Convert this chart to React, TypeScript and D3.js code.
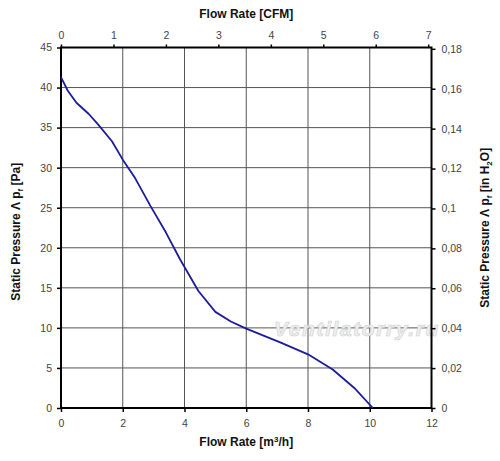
import React, { useEffect, useRef } from 'react';
import * as d3 from 'd3';

// Fan curve: flow in m³/h, static pressure in Pa
const flowM3h = [0, 0.22, 0.5, 0.9, 1.2, 1.65, 2.0, 2.4, 2.9, 3.4, 3.85, 4.45, 5.0, 5.5, 6.0, 7.1, 8.0, 8.8, 9.5, 10.1];
const pressurePa = [41.3, 39.6, 38.1, 36.7, 35.4, 33.3, 31.0, 28.7, 25.2, 21.9, 18.6, 14.6, 12.0, 10.8, 9.9, 8.2, 6.7, 4.8, 2.5, 0];

const bottomTicks = [0, 2, 4, 6, 8, 10, 12];
const leftTicks = [0, 5, 10, 15, 20, 25, 30, 35, 40, 45];
const topTicks = [0, 1, 2, 3, 4, 5, 6, 7];
const rightTicks = [0, 0.02, 0.04, 0.06, 0.08, 0.1, 0.12, 0.14, 0.16, 0.18];

const M3H_PER_CFM = 1.699;
const PA_PER_INH2O = 249.09;

const W = 500;
const H = 461;
const margin = { top: 47.5, right: 68.5, bottom: 53, left: 61 };

const font = "'Liberation Sans', Arial, sans-serif";

const App: React.FC = () => {
  const svgRef = useRef<SVGSVGElement>(null);

  useEffect(() => {
    if (!svgRef.current) return;
    const svg = d3.select(svgRef.current);
    svg.selectAll('*').remove();

    const x0 = margin.left;
    const x1 = W - margin.right;
    const y0 = H - margin.bottom;
    const y1 = margin.top;

    const x = d3.scaleLinear().domain([0, 12]).range([x0, x1]);
    const y = d3.scaleLinear().domain([0, 45]).range([y0, y1]);
    const xTop = d3.scaleLinear().domain([0, 12 / M3H_PER_CFM]).range([x0, x1]);
    const yRight = d3.scaleLinear().domain([0, 45 / PA_PER_INH2O]).range([y0, y1]);

    const comma = (v: number) => String(+v.toFixed(2)).replace('.', ',');

    // grid
    const grid = svg.append('g').attr('stroke', '#555').attr('stroke-width', 1);
    grid.selectAll('line.v')
      .data(bottomTicks.slice(1, -1))
      .join('line')
      .attr('x1', d => x(d)).attr('x2', d => x(d))
      .attr('y1', y1).attr('y2', y0);
    grid.selectAll('line.h')
      .data(leftTicks.slice(1, -1))
      .join('line')
      .attr('x1', x0).attr('x2', x1)
      .attr('y1', d => y(d)).attr('y2', d => y(d));

    // watermark
    svg.append('text')
      .attr('x', 357).attr('y', 336)
      .attr('text-anchor', 'middle')
      .attr('font-family', font)
      .attr('font-style', 'italic')
      .attr('font-weight', 'bold')
      .attr('font-size', 21)
      .attr('letter-spacing', 1.6)
      .attr('fill', '#f0f0f0')
      .attr('stroke', '#d2d2d2')
      .attr('stroke-width', 0.7)
      .text('Ventilatorry.ru');

    // axes
    const tickStyle = (g: d3.Selection<SVGGElement, unknown, null, undefined>) => {
      g.select('.domain').remove();
      g.selectAll('.tick line').attr('stroke', '#000').attr('stroke-width', 1.5);
      g.selectAll('.tick text')
        .attr('fill', '#444')
        .attr('font-family', font)
        .attr('font-size', 10.5);
    };

    svg.append('g')
      .attr('transform', `translate(0,${y0})`)
      .call(d3.axisBottom(x).tickValues(bottomTicks).tickSize(4).tickPadding(8).tickFormat(d => String(d)))
      .call(tickStyle);
    svg.append('g')
      .attr('transform', `translate(${x0},0)`)
      .call(d3.axisLeft(y).tickValues(leftTicks).tickSize(4).tickPadding(5).tickFormat(d => String(d)))
      .call(tickStyle);
    svg.append('g')
      .attr('transform', `translate(0,${y1})`)
      .call(d3.axisTop(xTop).tickValues(topTicks).tickSize(3).tickPadding(6).tickFormat(d => String(d)))
      .call(tickStyle);
    svg.append('g')
      .attr('transform', `translate(${x1},0)`)
      .call(d3.axisRight(yRight).tickValues(rightTicks).tickSize(4).tickPadding(6).tickFormat(d => comma(+d)))
      .call(tickStyle);

    // frame
    svg.append('rect')
      .attr('x', x0).attr('y', y1)
      .attr('width', x1 - x0).attr('height', y0 - y1)
      .attr('fill', 'none')
      .attr('stroke', '#000')
      .attr('stroke-width', 2);

    // curve
    const pts = flowM3h.map((f, i) => [f, pressurePa[i]] as [number, number]);
    const line = d3.line<[number, number]>()
      .x(d => x(d[0]))
      .y(d => y(d[1]));
    svg.append('path')
      .datum(pts)
      .attr('d', line)
      .attr('fill', 'none')
      .attr('stroke', '#1c1c9c')
      .attr('stroke-width', 1.8)
      .attr('stroke-linejoin', 'round');

    // titles
    const title = (t: d3.Selection<SVGTextElement, unknown, null, undefined>) =>
      t.attr('font-family', font).attr('font-weight', 'bold').attr('font-size', 12).attr('fill', '#111');

    svg.append('text')
      .attr('x', (x0 + x1) / 2).attr('y', 18)
      .attr('text-anchor', 'middle')
      .call(title)
      .text('Flow Rate [CFM]');

    const bt = svg.append('text')
      .attr('x', (x0 + x1) / 2).attr('y', 446)
      .attr('text-anchor', 'middle')
      .call(title);
    bt.append('tspan').text('Flow Rate [m');
    bt.append('tspan').attr('font-size', 8).attr('dy', -4).text('3');
    bt.append('tspan').attr('dy', 4).text('/h]');

    const lt = svg.append('text')
      .attr('transform', `translate(20,${(y0 + y1) / 2 + 4}) rotate(-90)`)
      .attr('text-anchor', 'middle')
      .call(title);
    lt.append('tspan').text('Static Pressure Λ p');
    lt.append('tspan').attr('font-size', 8).attr('dy', 3).text('f');
    lt.append('tspan').attr('dy', -3).text(' [Pa]');

    const rt = svg.append('text')
      .attr('transform', `translate(489,${(y0 + y1) / 2}) rotate(-90)`)
      .attr('text-anchor', 'middle')
      .call(title);
    rt.append('tspan').text('Static Pressure Λ p');
    rt.append('tspan').attr('font-size', 8).attr('dy', 3).text('f');
    rt.append('tspan').attr('dy', -3).text(' [in H');
    rt.append('tspan').attr('font-size', 8).attr('dy', 3).text('2');
    rt.append('tspan').attr('dy', -3).text('O]');
  }, []);

  return (
    <svg
      ref={svgRef}
      width={W}
      height={H}
      style={{ position: 'absolute', left: 0, top: 0, background: '#fff' }}
    />
  );
};

export default App;
